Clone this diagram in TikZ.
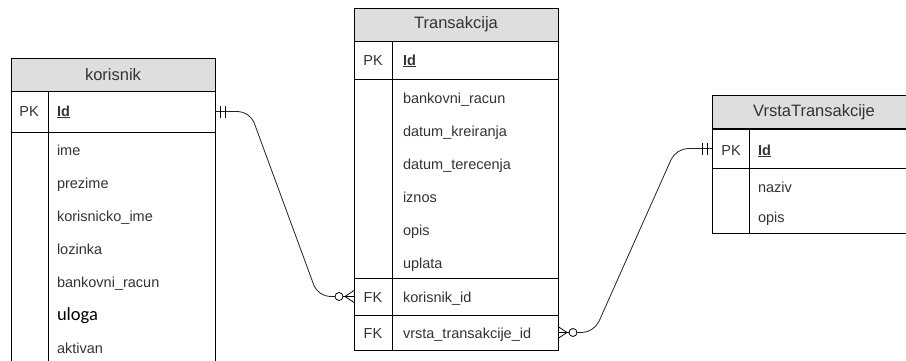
\documentclass[tikz,border=0pt]{standalone}
\usepackage{fontspec}
\setmainfont{Liberation Sans}
\newfontfamily\ulogafont{Carlito}
\usepackage{xcolor}
\definecolor{hdrgray}{HTML}{DEDEDE}
\definecolor{txtgray}{HTML}{333333}
\definecolor{linegray}{HTML}{222222}

\tikzset{
  onlyone/.pic={\draw[line width=0.8pt] (5,-6) -- (5,6) (10,-6) -- (10,6);},
  zeromany/.pic={\draw[line width=0.8pt] (0,-6) -- (9,0) -- (0,6) (0,0) -- (11,0);
                 \draw[line width=0.8pt, fill=white] (15,0) circle (4pt);}
}

\begin{document}
\begin{tikzpicture}[x=1pt,y=-1pt,
    every node/.style={inner sep=0pt, outer sep=0pt},
    hdr/.style={draw, line width=0.9pt, fill=hdrgray, minimum width=204pt, minimum height=33pt,
                text=txtgray, font=\fontsize{16.5}{18}\selectfont},
    box/.style={draw, line width=0.9pt, minimum width=204pt},
    attr/.style={anchor=base west, text=txtgray, font=\fontsize{14.5}{16}\selectfont},
    keytxt/.style={attr, anchor=base},
    conn/.style={draw=linegray, line width=0.8pt, rounded corners=12pt}]
    \clip (0,0) rectangle (906,360);
    \useasboundingbox (0,0) rectangle (906,360);

    % korisnik
    \node[hdr] (kor) at (113,75) {korisnik};
    \node[box, minimum height=41pt] (korpk) at (113,111.5) {};
    \node[box, minimum height=250pt] (korbody) at (113,257) {};
    \draw[line width=0.9pt] (48,91) -- (48,382);
    \node[keytxt] (korpkt) at (29,116) {PK};
    \node[attr] (korid) at (57,116) {\underline{\textbf{Id}}};
    \foreach \t [count=\i] in {ime,prezime,korisnicko\_ime,lozinka,bankovni\_racun,
        {\ulogafont\fontsize{18.5}{20}\selectfont\color{black}uloga},aktivan}
      \node[attr] (kor\i) at (57,122+33*\i) {\t};

    % Transakcija
    \node[hdr] (tr) at (456,24.5) {Transakcija};
    \node[box, minimum height=38pt] (trpk) at (456,60) {};
    \node[box, minimum height=199pt] (trbody) at (456,178.5) {};
    \node[box, minimum height=37pt] (trfk1) at (456,296.5) {};
    \node[box, minimum height=35pt] (trfk2) at (456,332.5) {};
    \draw[line width=0.9pt] (392,41) -- (392,350);
    \node[keytxt] (trpkt) at (373,65) {PK};
    \node[attr] (trid) at (403,65) {\underline{\textbf{Id}}};
    \foreach \t [count=\i] in {bankovni\_racun,datum\_kreiranja,datum\_terecenja,iznos,opis,uplata}
      \node[attr] (tr\i) at (403,70+33*\i) {\t};
    \node[keytxt] (trfkt1) at (373,302) {FK};
    \node[attr] (trkor) at (403,302) {korisnik\_id};
    \node[keytxt] (trfkt2) at (373,338) {FK};
    \node[attr] (trvrs) at (403,338) {vrsta\_transakcije\_id};

    % VrstaTransakcije
    \node[hdr] (vr) at (814,112) {VrstaTransakcije};
    \node[box, minimum height=39pt] (vrpk) at (814,148.5) {};
    \node[box, minimum height=65pt] (vrbody) at (814,200.5) {};
    \draw[line width=0.9pt] (749,129) -- (749,233);
    \node[keytxt] (vrpkt) at (731,155) {PK};
    \node[attr] (vrid) at (758,155) {\underline{\textbf{Id}}};
    \node[attr] (vr1) at (758,192) {naziv};
    \node[attr] (vr2) at (758,222) {opis};

    % veze
    \draw[conn] (korpk.east) -- (250,111.5) -- (318,296.5) -- (trfk1.west);
    \draw[conn] (trfk2.east) -- (594,332.5) -- (676,148.5) -- (vrpk.west);
    \pic at (korpk.east) {onlyone};
    \pic[rotate=180] at (trfk1.west) {zeromany};
    \pic at (trfk2.east) {zeromany};
    \pic[rotate=180] at (vrpk.west) {onlyone};
\end{tikzpicture}
\end{document}
